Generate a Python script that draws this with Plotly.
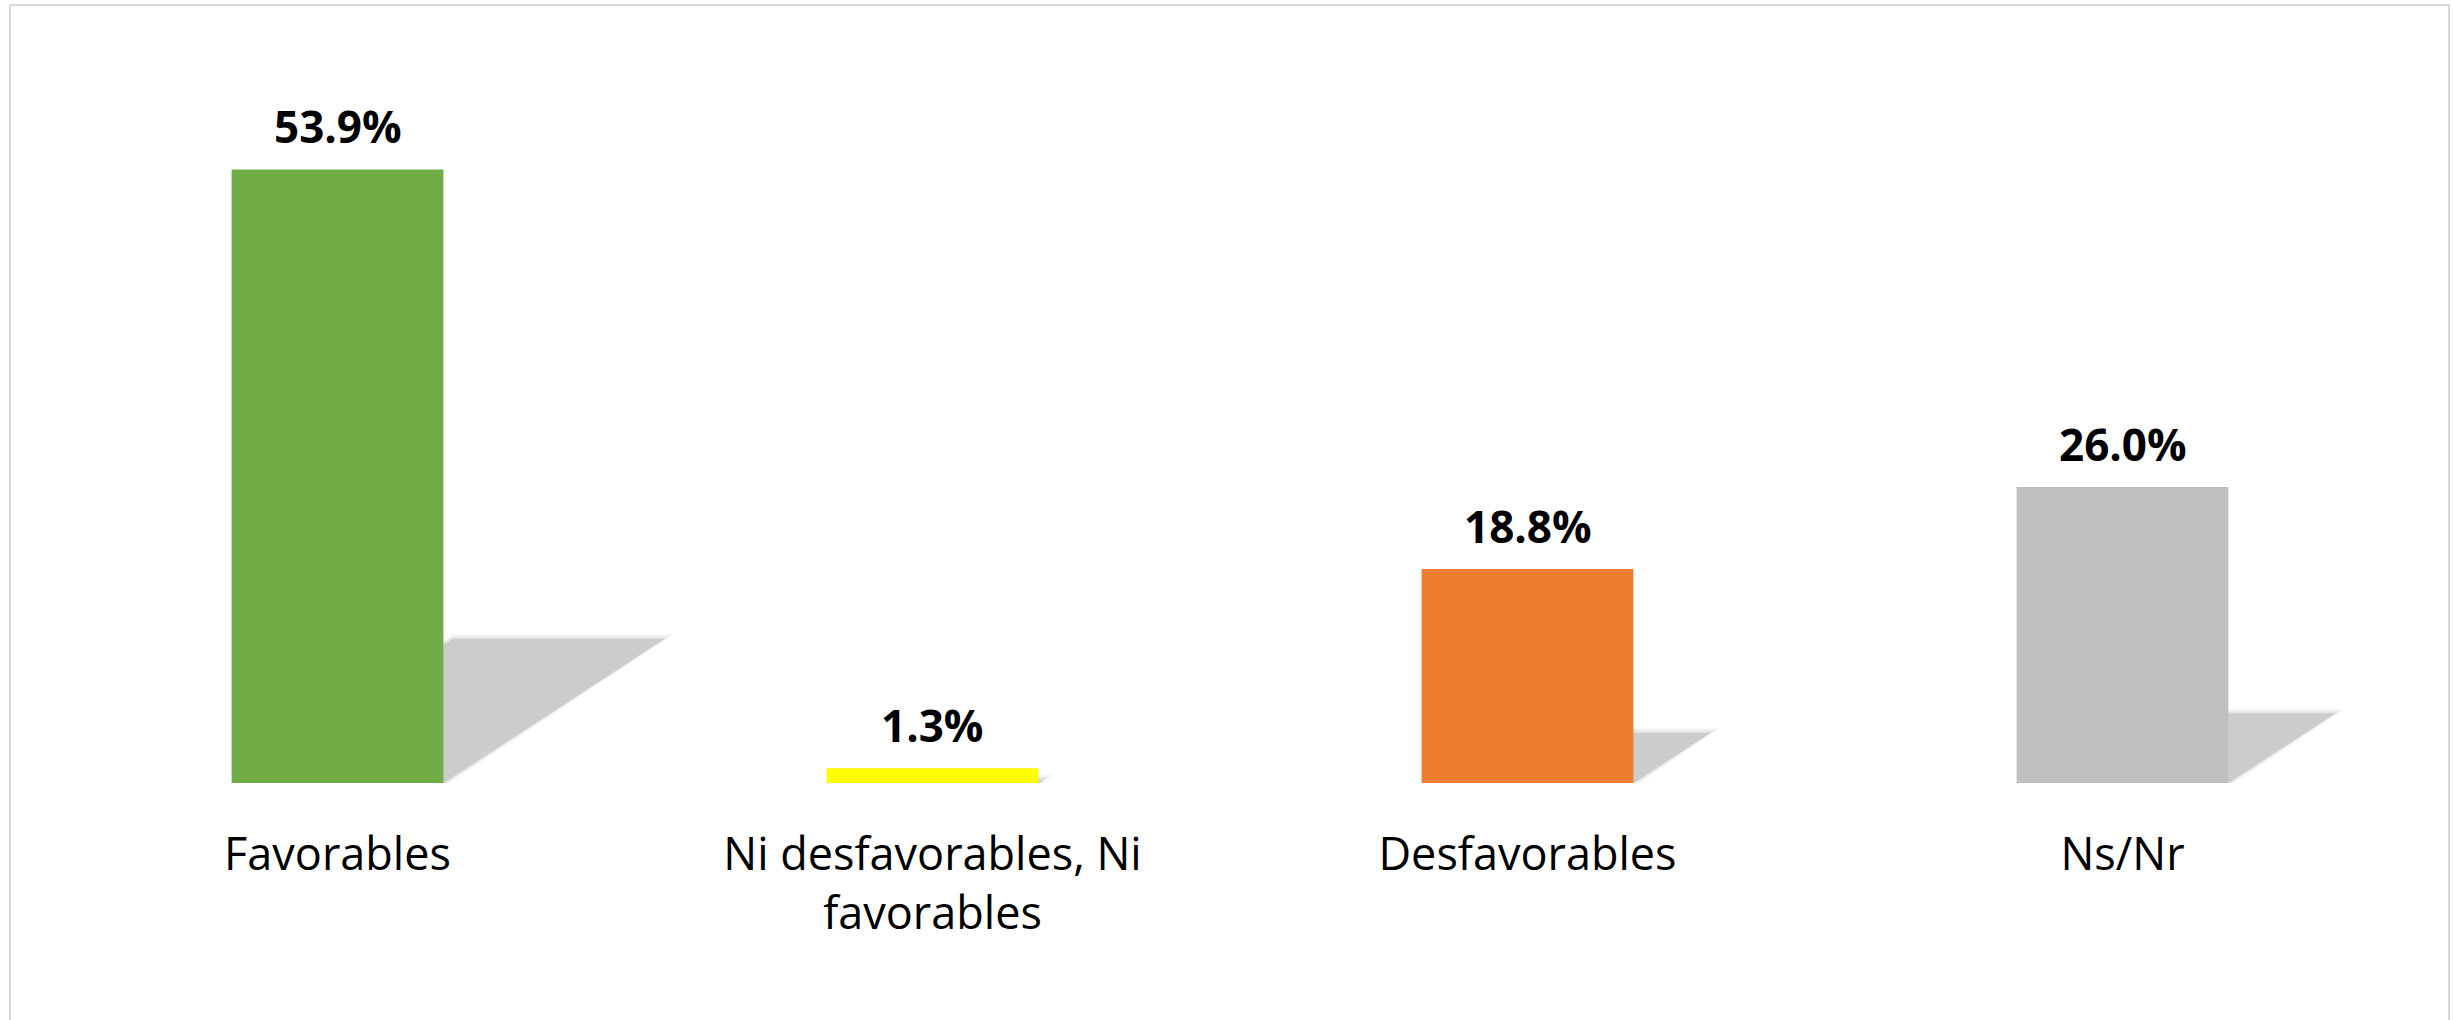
import plotly.graph_objects as go

categories = ["Favorables", "Ni desfavorables, Ni<br>favorables", "Desfavorables", "Ns/Nr"]
values = [53.9, 1.3, 18.8, 26.0]
value_labels = ["53.9%", "1.3%", "18.8%", "26.0%"]
colors = ["#70AD47", "#FFFF00", "#ED7D31", "#BFBFBF"]

positions = list(range(len(categories)))
bar_width = 0.356
shadow_dx = 0.0069   # category units per % of bar height
shadow_dy = 0.235    # fraction of bar height

fig = go.Figure()

fig.add_trace(go.Bar(
    x=positions, y=values, width=bar_width,
    marker=dict(color=colors, line=dict(width=0)),
    showlegend=False, hoverinfo="skip",
))

# soft projected shadows behind bars (drawn below traces)
for i, v in zip(positions, values):
    left = i - bar_width / 2
    right = i + bar_width / 2
    dx = shadow_dx * v
    dy = shadow_dy * v
    for grow, op in [(0.010, 0.2), (0.005, 0.4), (0.0, 1.0)]:
        pts = [(left, 0), (right + grow, 0), (right + dx + grow * 1.5, dy + grow * 40),
               (left + dx, dy + grow * 40)]
        path = "M " + " L ".join("%f,%f" % p for p in pts) + " Z"
        fig.add_shape(
            type="path", path=path, xref="x", yref="y", layer="below",
            fillcolor="rgba(204,204,204,%s)" % op, line=dict(width=0),
        )

for i, v, t in zip(positions, values, value_labels):
    fig.add_annotation(
        x=i, y=v, text="<b>%s</b>" % t, showarrow=False,
        yanchor="bottom", yshift=11,
        font=dict(family="Open Sans", size=44, color="#000000"),
    )

plot_left, plot_right = 40, 2420
plot_top, plot_bottom = 100, 783
W, H = 2453, 1020
pw = plot_right - plot_left
ph = plot_bottom - plot_top

# outer light border
fig.add_shape(
    type="rect", xref="paper", yref="paper",
    x0=(10 - plot_left) / pw, x1=(2449 - plot_left) / pw,
    y0=(plot_bottom - 1030) / ph, y1=1 + (plot_top - 5) / ph,
    line=dict(color="#D9D9D9", width=2), fillcolor="rgba(0,0,0,0)", layer="below",
)

fig.update_layout(
    width=W, height=H,
    margin=dict(l=plot_left, r=W - plot_right, t=plot_top, b=H - plot_bottom, pad=0),
    paper_bgcolor="white", plot_bgcolor="rgba(0,0,0,0)",
    xaxis=dict(
        range=[-0.5, 3.5], tickvals=positions, ticktext=categories,
        showgrid=False, zeroline=False, showline=False, ticks="",
        ticklabelstandoff=41,
        tickfont=dict(family="Open Sans", size=45, color="#000000"),
    ),
    yaxis=dict(range=[0, 60], visible=False, showgrid=False, zeroline=False),
    font=dict(family="Open Sans", color="#000000"),
)

fig.write_html(
    "out.html",
    config={"displayModeBar": False},
    post_script="document.body.style.margin='0';document.body.style.overflow='hidden';",
)
